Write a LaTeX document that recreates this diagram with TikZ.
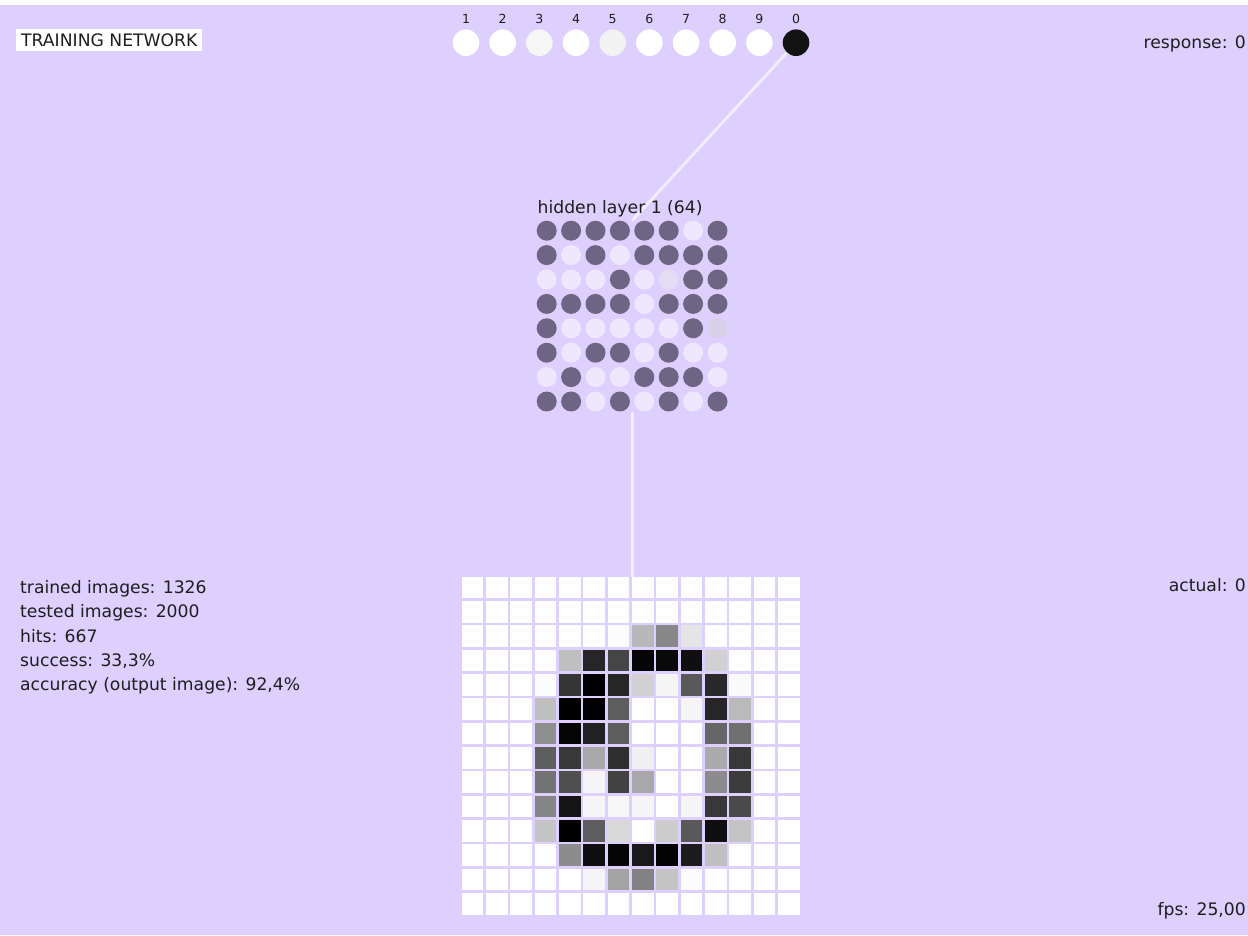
\documentclass[tikz,border=0pt]{standalone}
\usepackage{fontspec}
\setmainfont{DejaVu Sans}
\usetikzlibrary{positioning}
\definecolor{bgLav}{HTML}{DDCFFE}
\definecolor{hid0}{HTML}{EEE8FF}
\definecolor{hid1}{HTML}{6D6583}
\definecolor{hid2}{HTML}{E3DCF2}
\definecolor{hid3}{HTML}{D7D0E6}
\definecolor{outDimA}{HTML}{F6F6F6}
\definecolor{outDimB}{HTML}{F2F2F2}
\definecolor{outOn}{HTML}{131313}
\definecolor{wire}{HTML}{F1ECFF}
\definecolor{ink}{HTML}{1E1E1E}
\newcommand{\txtfont}{\fontsize{17.2}{20}\selectfont}
\newcommand{\numfont}{\fontsize{12.5}{14}\selectfont}

\begin{document}
\begin{tikzpicture}[x=1pt, y=-1pt, text=ink,
    stat/.style={anchor=base west, inner sep=0pt, font=\txtfont},
    info/.style={anchor=base east, inner sep=0pt, font=\txtfont},
    ounit/.style={circle, minimum size=26.6pt, inner sep=0pt},
    hunit/.style={circle, minimum size=20pt, inner sep=0pt},
    wireline/.style={draw=wire, line width=3pt}]
  % canvas
  \fill[bgLav] (0,0) rectangle (1248,935);
  \fill[white] (0,0) rectangle (1248,5);
  \useasboundingbox (0,0) rectangle (1248,935);

  % ---------------- header texts
  \node[anchor=west, fill=white, inner xsep=5pt, inner ysep=0pt, minimum height=21.4pt, font=\txtfont] (title) at (16,40) {TRAINING NETWORK};
  \node[info] (resp) at (1246,48.3) {response: 0};

  % ---------------- output layer (digits)
  \foreach \lab/\shade [count=\i from 0] in {1/white, 2/white, 3/outDimA, 4/white, 5/outDimB, 6/white, 7/white, 8/white, 9/white, 0/outOn} {
    \node[ounit, fill=\shade, label={[font=\numfont, label distance=2pt]above:\lab}] (o\lab) at (466+36.67*\i,42.7) {};
  }

  % ---------------- hidden layer 1, 8 x 8 units
  \node[minimum width=191pt, minimum height=190.6pt, inner sep=0pt] (hid) at (632.2,316) {};
  \draw[wireline] (o0) -- (hid.north);
  \node[stat] (hidlab) at (537.5,213.3) {hidden layer 1 (64)};
  % 0 = off, 1 = on, 2/3 = weak
  \foreach \row [count=\r from 0] in {{1,1,1,1,1,1,0,1},{1,0,1,0,1,1,1,1},{0,0,0,1,0,2,1,1},{1,1,1,1,0,1,1,1},
                                      {1,0,0,0,0,0,1,3},{1,0,1,1,0,1,0,0},{0,1,0,0,1,1,1,0},{1,1,0,1,0,1,0,1}} {
    \foreach \s [count=\c from 0] in \row {
      \node[hunit, fill=hid\s] (h-\r-\c) at (546.7+24.4*\c,230.7+24.4*\r) {};
    }
  }

  % ---------------- input image, 14 x 14 pixels (percent of black)
  \node[minimum width=338pt, minimum height=338pt, inner sep=0pt] (img) at (630.7,745.7) {};
  \draw[wireline] (hid.south) -- (hid.south |- img.north);
  \foreach \row [count=\r from 0] in {
      {0,0,0,0,0,0,0,0,0,0,0,0,0,0},
      {0,0,0,0,0,0,0,0,0,0,0,0,0,0},
      {0,0,0,0,0,0,1,28,47,10,0,0,0,0},
      {0,0,0,0,25,85,73,98,96,94,18,0,0,0},
      {0,0,0,1,79,100,85,18,4,65,84,2,0,0},
      {0,0,0,25,100,100,63,0,0,4,85,27,0,0},
      {0,0,0,44,98,87,63,0,0,0,60,56,0,0},
      {0,0,0,63,78,34,82,6,0,0,33,78,0,0},
      {0,0,0,55,69,4,74,34,0,0,45,77,0,0},
      {0,0,0,48,92,4,3,4,0,4,78,71,0,0},
      {0,0,0,23,100,63,15,0,20,65,94,23,0,0},
      {0,0,0,0,45,94,98,90,99,89,25,0,0,0},
      {0,0,0,0,0,4,36,49,23,1,0,0,0,0},
      {0,0,0,0,0,0,0,0,0,0,0,0,0,0}} {
    \foreach \v [count=\c from 0] in \row {
      \fill[black!\v!white] (461.7+24.33*\c,576.7+24.33*\r) rectangle ++(21.7,21.7);
    }
  }

  % ---------------- statistics
  \foreach \txt [count=\i from 0] in {trained images: 1326, tested images: 2000, hits: 667, {success: 33,3\%}, {accuracy (output image): 92,4\%}} {
    \node[stat] (stat\i) at (20,593.3+24.35*\i) {\txt};
  }
  \node[info] (act) at (1246,591) {actual: 0};
  \node[info] (fps) at (1246,915) {fps: 25,00};
\end{tikzpicture}
\end{document}
